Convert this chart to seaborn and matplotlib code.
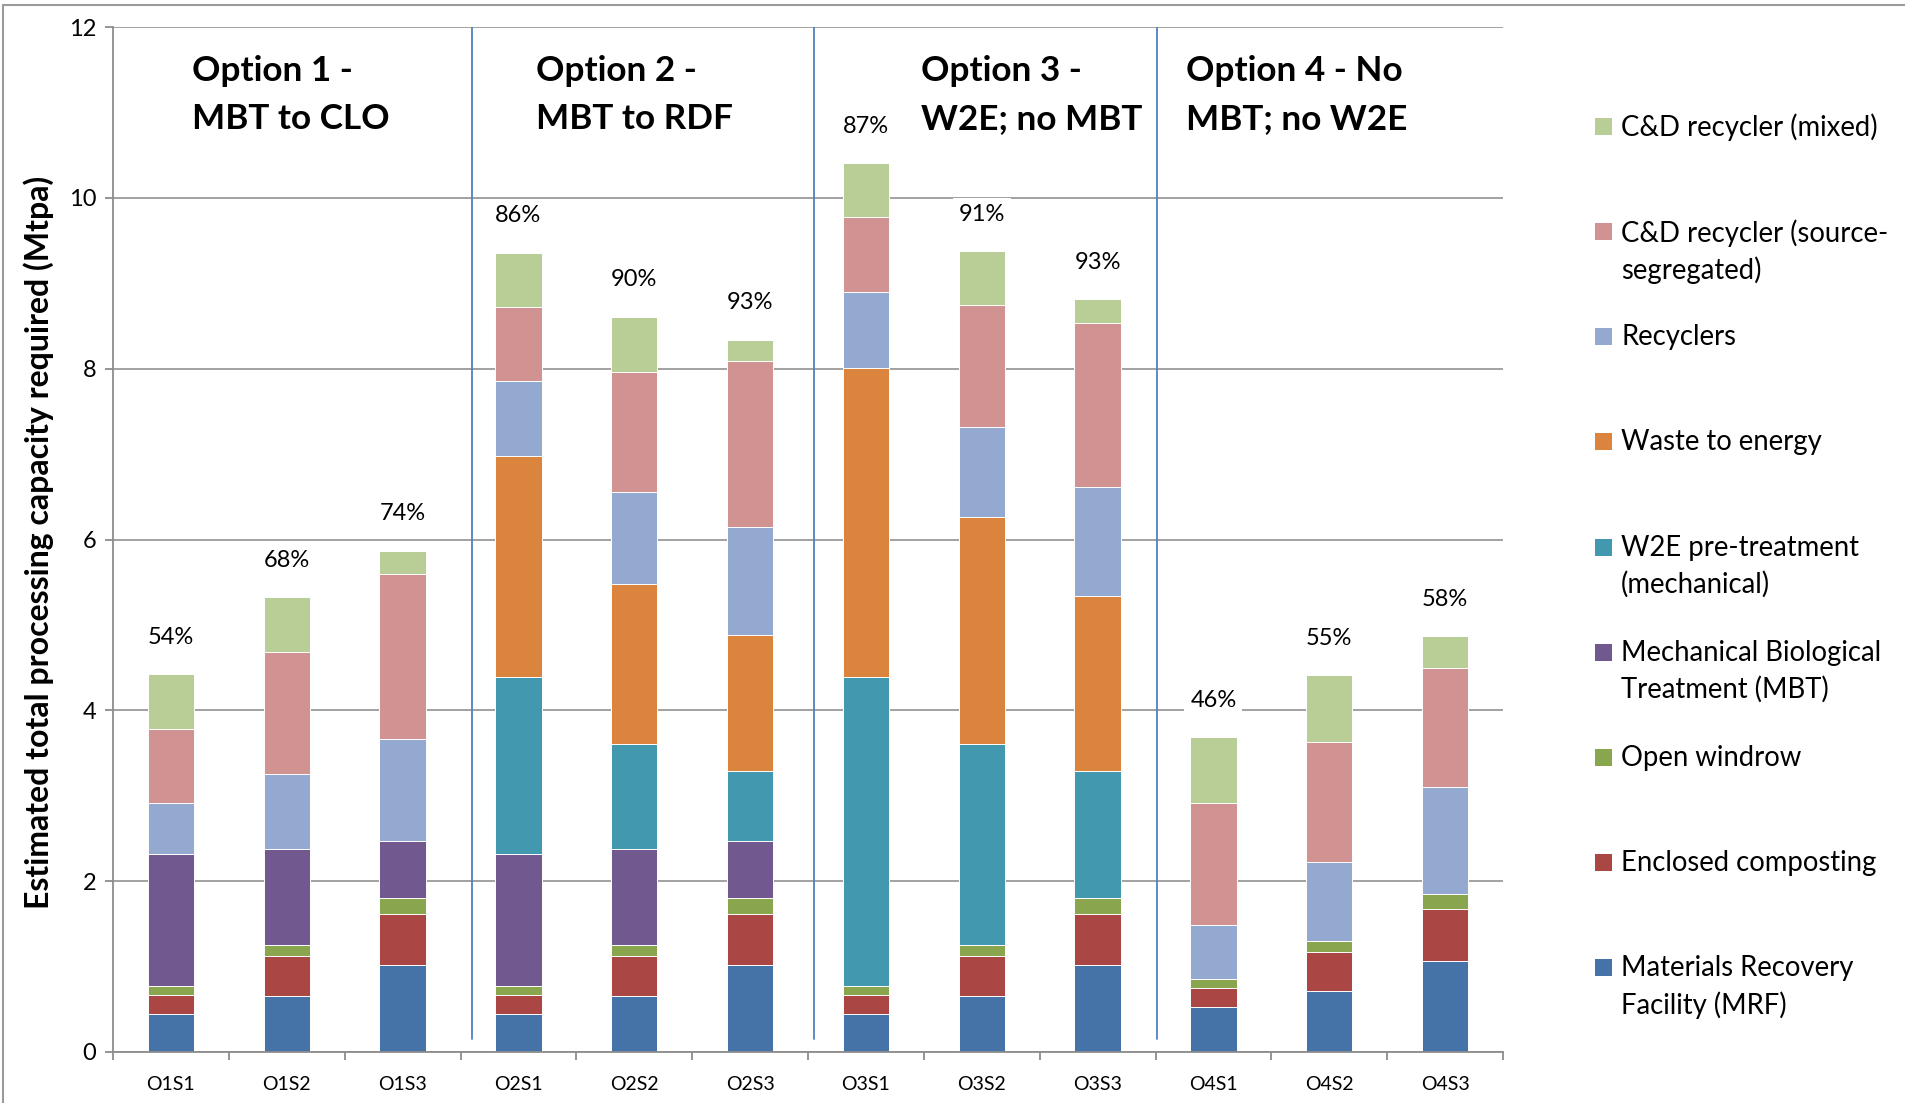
import numpy as np
import pandas as pd
import matplotlib
matplotlib.use("Agg")
import matplotlib.pyplot as plt
from matplotlib.patches import Rectangle
from matplotlib.lines import Line2D
import seaborn as sns

# Scenario data (Mtpa of processing capacity, stacked bottom -> top)
scenarios = ["O1S1", "O1S2", "O1S3", "O2S1", "O2S2", "O2S3",
             "O3S1", "O3S2", "O3S3", "O4S1", "O4S2", "O4S3"]
mrf = [0.45, 0.66, 1.02, 0.45, 0.66, 1.02, 0.45, 0.66, 1.02, 0.53, 0.72, 1.07]
enclosed = [0.22, 0.46, 0.60, 0.22, 0.46, 0.60, 0.22, 0.46, 0.60, 0.22, 0.45, 0.60]
windrow = [0.10, 0.13, 0.18, 0.10, 0.13, 0.18, 0.10, 0.13, 0.18, 0.10, 0.13, 0.18]
mbt = [1.55, 1.13, 0.67, 1.55, 1.13, 0.67, 0, 0, 0, 0, 0, 0]
w2e_pre = [0, 0, 0, 2.07, 1.23, 0.82, 3.62, 2.36, 1.49, 0, 0, 0]
wte = [0, 0, 0, 2.59, 1.87, 1.59, 3.62, 2.65, 2.05, 0, 0, 0]
recyclers = [0.59, 0.88, 1.20, 0.87, 1.08, 1.27, 0.89, 1.06, 1.28, 0.64, 0.93, 1.25]
cd_source = [0.87, 1.42, 1.93, 0.87, 1.40, 1.94, 0.87, 1.42, 1.92, 1.42, 1.40, 1.39]
cd_mixed = [0.64, 0.65, 0.27, 0.64, 0.65, 0.25, 0.64, 0.64, 0.27, 0.78, 0.78, 0.38]
diversion_pct = [54, 68, 74, 86, 90, 93, 87, 91, 93, 46, 55, 58]

option_titles = ["Option 1 -\nMBT to CLO", "Option 2 -\nMBT to RDF",
                 "Option 3 -\nW2E; no MBT", "Option 4 - No\nMBT; no W2E"]

series_names = ["Materials Recovery\nFacility (MRF)", "Enclosed composting",
                "Open windrow", "Mechanical Biological\nTreatment (MBT)",
                "W2E pre-treatment\n(mechanical)", "Waste to energy",
                "Recyclers", "C&D recycler (source-\nsegregated)",
                "C&D recycler (mixed)"]
series_values = [mrf, enclosed, windrow, mbt, w2e_pre, wte,
                 recyclers, cd_source, cd_mixed]
series_colors = ["#4572A7", "#AA4643", "#89A54E", "#71588F", "#4198AF",
                 "#DB843D", "#93A9CF", "#D19392", "#B9CD96"]

df = pd.DataFrame({"scenario": scenarios})
cum = np.cumsum(np.array(series_values, dtype=float), axis=0)
for k in range(len(series_names)):
    df[f"cum{k}"] = cum[k]
totals = cum[-1]

sns.set_theme(style="white")
plt.rcParams["font.family"] = ["Lato", "DejaVu Sans"]

W, H = 1905, 1103
fig = plt.figure(figsize=(W / 100, H / 100), dpi=100)
ax = fig.add_axes([113 / W, 1 - 1052 / H, (1503 - 113) / W, (1052 - 27) / H])

# stacked bars: draw cumulative heights from the top series downwards
for k in reversed(range(len(series_names))):
    sns.barplot(data=df, x="scenario", y=f"cum{k}", order=scenarios,
                color=series_colors[k], saturation=1, width=0.4,
                edgecolor="white", linewidth=0.7, ax=ax, zorder=2)

ax.set_xlim(-0.5, len(scenarios) - 0.5)
ax.set_ylim(0, 12)
ax.set_yticks(np.arange(0, 13, 2))
ax.yaxis.grid(True, color="#9A9A9A", linewidth=1.3)
ax.set_axisbelow(True)
ax.set_xlabel("")
ax.set_ylabel("")

for side in ["top", "right"]:
    ax.spines[side].set_visible(False)
for side in ["left", "bottom"]:
    ax.spines[side].set_color("#8C8C8C")
    ax.spines[side].set_linewidth(1.3)

ax.tick_params(axis="y", which="major", length=6, width=1.3, color="#8C8C8C",
               left=True, pad=6, labelsize=17, labelcolor="black")
ax.tick_params(axis="x", which="major", length=0, pad=17.5, labelsize=14,
               labelcolor="black")
ax.set_xticks(np.arange(-0.5, len(scenarios), 1.0), minor=True)
ax.tick_params(axis="x", which="minor", length=6, width=1.3, color="#8C8C8C",
               bottom=True)

# diversion percentage above each bar
for i, (t, p) in enumerate(zip(totals, diversion_pct)):
    ax.text(i, t + 0.43, f"{p}%", ha="center", va="center", fontsize=17,
            color="black", zorder=4,
            bbox=dict(boxstyle="square,pad=0.25", facecolor="white",
                      edgecolor="none"))

# option separators and headings
separators = [2.6, 5.555, 8.515]
for xs in separators:
    ax.plot([xs, xs], [0.15, 12], color="#4F81BD", linewidth=1.3, zorder=3)

title_x = [192, 536, 921, 1186]
for tx, txt in zip(title_x, option_titles):
    fig.text(tx / W, 1 - 95 / H, txt, ha="left", va="center", fontsize=25.3,
             fontweight="bold", color="black", linespacing=1.6)

# axis title
fig.text(39 / W, 1 - 542 / H,
         "Estimated total processing capacity required (Mtpa)",
         rotation=90, ha="center", va="center", fontsize=23,
         fontweight="bold", color="black")

# legend, top entry first
first_line_y = 126.3
step = 105.2
for j, k in enumerate(reversed(range(len(series_names)))):
    yc = first_line_y + j * step
    fig.add_artist(Rectangle((1595 / W, 1 - (yc + 8.5) / H), 17 / W, 17 / H,
                             transform=fig.transFigure,
                             facecolor=series_colors[k], edgecolor="none"))
    fig.text(1621 / W, 1 - (yc - 12.5) / H, series_names[k], ha="left",
             va="top", fontsize=19.8, color="black", linespacing=1.45)

# outer frame (top and left edges)
fig.add_artist(Line2D([3 / W, 3 / W], [0, 1 - 5 / H], transform=fig.transFigure,
                      color="#9A9A9A", linewidth=1.5))
fig.add_artist(Line2D([3 / W, 1], [1 - 5 / H, 1 - 5 / H],
                      transform=fig.transFigure, color="#9A9A9A", linewidth=1.5))

fig.savefig("out.png", dpi=100, facecolor="white")
